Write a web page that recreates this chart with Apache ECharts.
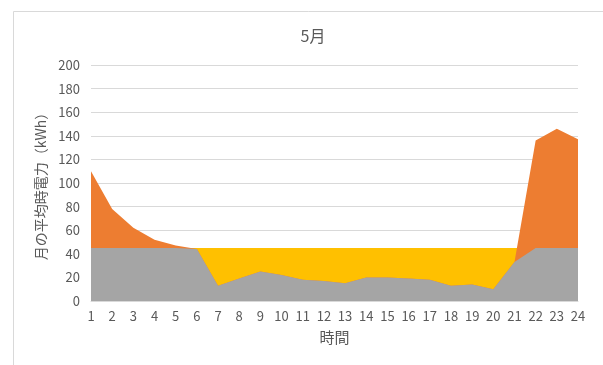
<!DOCTYPE html>
<html>
<head>
<meta charset="utf-8">
<script src="https://cdn.jsdelivr.net/npm/echarts@6/dist/echarts.min.js"></script>
<style>
  html, body { margin: 0; padding: 0; background: #fff; }
  #chart { width: 603px; height: 365px; }
</style>
</head>
<body>
<div id="chart"></div>
<script>
// Hours of the day (x categories)
const hours = ['1','2','3','4','5','6','7','8','9','10','11','12','13','14','15','16','17','18','19','20','21','22','23','24'];
// Average hourly demand for May (kWh)
const demand = [110, 78, 62, 52, 47, 44, 13, 19, 25, 22, 18, 17, 15, 20, 20, 19, 18, 13, 14, 10, 33, 136, 146, 137];
// Supply level (kWh)
const supply = [45, 45, 45, 45, 45, 45, 45, 45, 45, 45, 45, 45, 45, 45, 45, 45, 45, 45, 45, 45, 45, 45, 45, 45];
// Demand covered by supply (kWh)
const covered = [45, 45, 45, 45, 45, 44, 13, 19, 25, 22, 18, 17, 15, 20, 20, 19, 18, 13, 14, 10, 33, 45, 45, 45];
// Y-axis tick values
const yTicks = [0, 20, 40, 60, 80, 100, 120, 140, 160, 180, 200];

const textColor = '#595959';
const font = '"Noto Sans CJK JP", "Noto Sans", sans-serif';

function areaSeries(name, data, color) {
  return {
    name: name,
    type: 'line',
    data: data,
    showSymbol: false,
    symbol: 'none',
    lineStyle: { width: 0 },
    areaStyle: { color: color, opacity: 1 },
    itemStyle: { color: color },
    silent: true,
    animation: false
  };
}

const chart = echarts.init(document.getElementById('chart'), null, { renderer: 'canvas' });
chart.setOption({
  backgroundColor: '#fff',
  animation: false,
  title: {
    text: '5月',
    left: 308,
    top: 23,
    textAlign: 'center',
    textStyle: { color: textColor, fontSize: 16, fontWeight: 'normal', fontFamily: font }
  },
  graphic: [
    {
      type: 'polyline',
      shape: { points: [[13.5, 365], [13.5, 11.5], [603, 11.5]] },
      style: { stroke: '#D9D9D9', lineWidth: 1, fill: null },
      silent: true
    }
  ],
  grid: { left: 91, right: 25, top: 65, bottom: 64 },
  xAxis: {
    type: 'category',
    data: hours,
    boundaryGap: false,
    name: '時間',
    nameLocation: 'middle',
    nameGap: 29,
    nameTextStyle: { color: textColor, fontSize: 15, fontFamily: font },
    axisLine: { lineStyle: { color: '#D9D9D9' } },
    axisTick: { show: false },
    axisLabel: { color: textColor, fontSize: 13, margin: 9, interval: 0, fontFamily: font }
  },
  yAxis: {
    type: 'value',
    min: yTicks[0],
    max: yTicks[yTicks.length - 1],
    interval: yTicks[1] - yTicks[0],
    name: '月の平均時電力（kWh）',
    nameLocation: 'middle',
    nameRotate: 90,
    nameGap: 40,
    nameTextStyle: { color: textColor, fontSize: 14, fontFamily: font },
    axisLine: { show: false },
    axisTick: { show: false },
    axisLabel: { color: textColor, fontSize: 13, margin: 11, fontFamily: font },
    splitLine: { lineStyle: { color: '#D9D9D9', width: 1 } }
  },
  series: [
    areaSeries('供給', supply, '#FFC000'),
    areaSeries('需要', demand, '#ED7D31'),
    areaSeries('充足', covered, '#A5A5A5')
  ]
});
</script>
</body>
</html>
